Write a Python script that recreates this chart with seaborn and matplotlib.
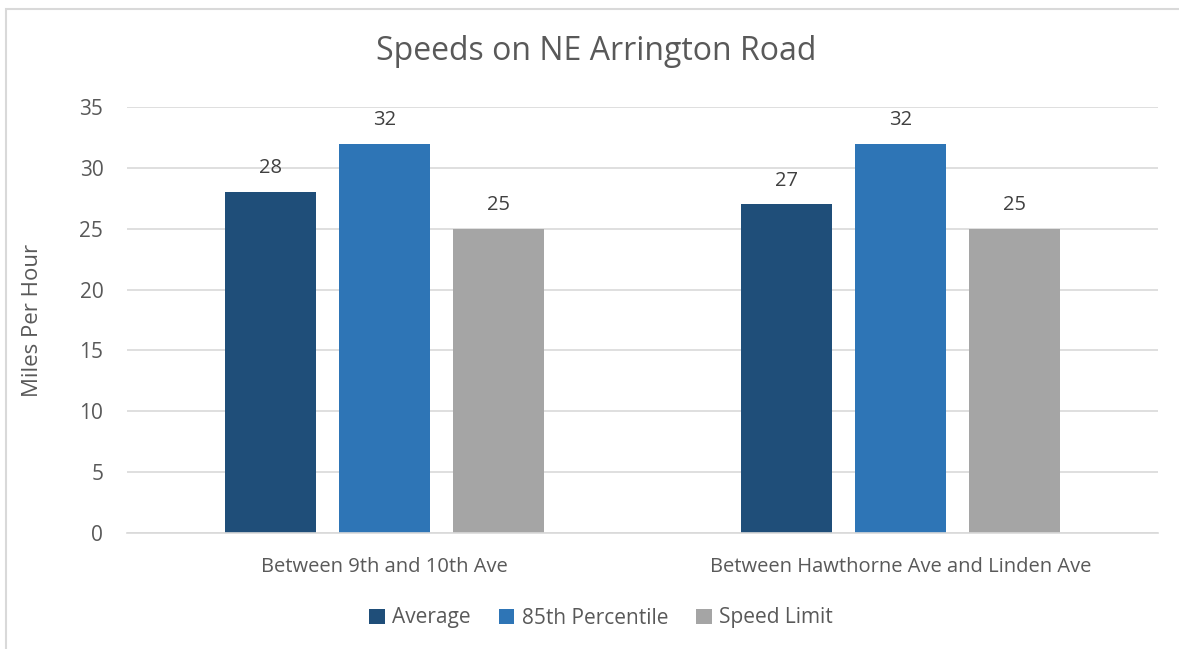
import numpy as np
import pandas as pd
import matplotlib
matplotlib.use("Agg")
import matplotlib.pyplot as plt
import seaborn as sns
from matplotlib.patches import Rectangle

# data
locations = ["Between 9th and 10th Ave", "Between Hawthorne Ave and Linden Ave"]
series = ["Average", "85th Percentile", "Speed Limit"]
average = [28, 27]
pct85 = [32, 32]
limit = [25, 25]
colors = ["#1F4E79", "#2E75B6", "#A5A5A5"]

df = pd.DataFrame({
    "location": locations * 3,
    "series": [s for s in series for _ in locations],
    "mph": average + pct85 + limit,
})

sns.set_style("white")
plt.rcParams['font.family'] = ['Open Sans', 'DejaVu Sans']
text_color = "#595959"

fig = plt.figure(figsize=(11.79, 6.49), dpi=100)
ax = fig.add_axes([0.1077, 0.1787, 0.8745, 0.6564])

sns.barplot(data=df, x="location", y="mph", hue="series", order=locations,
            hue_order=series, palette=colors, width=0.663, gap=0.2,
            saturation=1, linewidth=0, ax=ax, legend=True)

for c in ax.containers:
    ax.bar_label(c, fmt="%d", padding=10, fontsize=14.5, color="#404040")

ax.set_ylim(0, 35)
ax.set_xlim(-0.5, 1.5)
ax.set_yticks(range(0, 36, 5))
ax.yaxis.grid(True, color="#D9D9D9", linewidth=1.2)
ax.set_axisbelow(True)
for s in ["top", "right", "left"]:
    ax.spines[s].set_visible(False)
ax.spines["bottom"].set_color("#D9D9D9")
ax.spines["bottom"].set_linewidth(1.2)
ax.tick_params(axis="y", length=0, labelsize=15, labelcolor=text_color, pad=17)
ax.tick_params(axis="x", length=0, labelsize=14.5, labelcolor=text_color, pad=17)
ax.set_xlabel("")
ax.set_ylabel("Miles Per Hour", fontsize=16, color=text_color, labelpad=26)
fig.text(596 / 1179, 1 - 52 / 649, "Speeds on NE Arrington Road", fontsize=23,
         color=text_color, ha="center", va="center")

handles, labels = ax.get_legend_handles_labels()
fig.legend(handles, labels, loc="center", bbox_to_anchor=(601 / 1179, 1 - 618 / 649),
           ncol=3, frameon=False, fontsize=15, handlelength=0.75, handleheight=0.75,
           handletextpad=0.35, columnspacing=1.35, labelcolor=text_color)
ax.get_legend().remove()

fig.patches.append(Rectangle((6 / 1179, -0.1), 1.2, 1 - 9 / 649 + 0.1,
                             transform=fig.transFigure, fill=False,
                             edgecolor="#D9D9D9", linewidth=1.5))

fig.savefig("out.png", dpi=100)
